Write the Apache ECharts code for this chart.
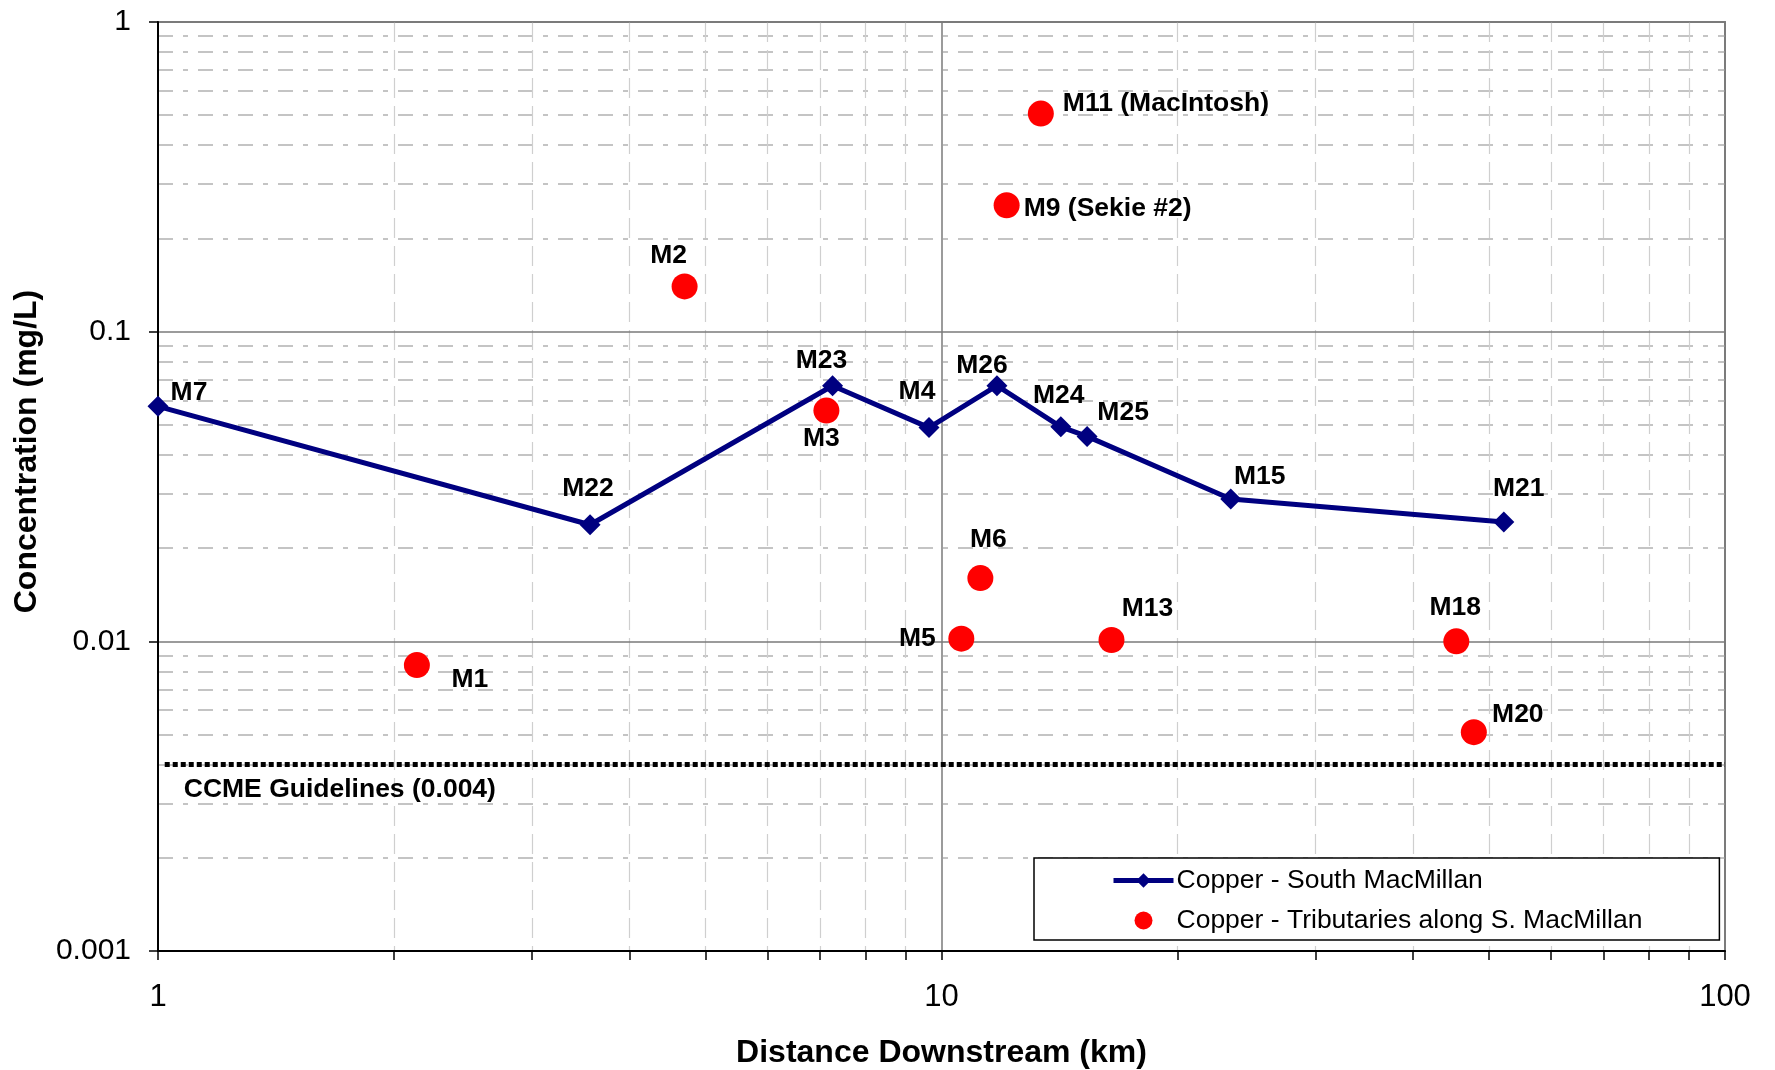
<!DOCTYPE html>
<html>
<head>
<meta charset="utf-8">
<title>Copper - South MacMillan</title>
<script src="https://cdn.jsdelivr.net/npm/echarts@6/dist/echarts.min.js"></script>
<style>
  html, body { margin: 0; padding: 0; background: #fff; }
  #chart { width: 1775px; height: 1070px; }
</style>
</head>
<body>
<div id="chart"></div>
<script>
// Main stem stations along the South MacMillan River
const mainSites = ['M7', 'M22', 'M23', 'M4', 'M26', 'M24', 'M25', 'M15', 'M21'];
const mainDistanceKm = [1.0, 3.56, 7.26, 9.64, 11.77, 14.2, 15.34, 23.4, 52.2];
const mainCopperMgL = [0.0574, 0.0238, 0.0669, 0.049, 0.0669, 0.0493, 0.0459, 0.0288, 0.0243];

// Tributary stations
const tribSites = ['M1', 'M2', 'M3', 'M5', 'M6', 'M9 (Sekie #2)', 'M11 (MacIntosh)', 'M13', 'M18', 'M20'];
const tribDistanceKm = [2.14, 4.70, 7.13, 10.60, 11.21, 12.11, 13.39, 16.48, 45.4, 47.8];
const tribCopperMgL = [0.00838, 0.140, 0.0556, 0.0102, 0.0160, 0.256, 0.506, 0.0101, 0.0100, 0.00509];

// CCME guideline
const ccmeGuideline = 0.004;
const ccmeLabel = 'CCME Guidelines (0.004)';

// Axis ticks
const xMajorTicks = [1, 10, 100];
const xMinorTicks = [2, 3, 4, 5, 6, 7, 8, 9, 20, 30, 40, 50, 60, 70, 80, 90];
const yMajorTicks = [0.001, 0.01, 0.1, 1];
const yMinorTicks = [0.002, 0.003, 0.004, 0.005, 0.006, 0.007, 0.008, 0.009,
                     0.02, 0.03, 0.04, 0.05, 0.06, 0.07, 0.08, 0.09,
                     0.2, 0.3, 0.4, 0.5, 0.6, 0.7, 0.8, 0.9];

const seriesMainName = 'Copper - South MacMillan';
const seriesTribName = 'Copper - Tributaries along S. MacMillan';

// Label placement per station: [align, dx, dy] relative to the marker centre
const labelPlacement = {
  'M7': ['center', 31, -14], 'M22': ['center', -2, -36], 'M23': ['center', -11, -25],
  'M4': ['center', -12, -36], 'M26': ['center', -15, -20], 'M24': ['center', -2, -31],
  'M25': ['center', 36, -24], 'M15': ['center', 29, -22], 'M21': ['center', 15, -33],
  'M1': ['center', 53, 15], 'M2': ['center', -16, -31], 'M3': ['center', -5, 28],
  'M5': ['center', -44, 0], 'M6': ['center', 8, -38], 'M9 (Sekie #2)': ['left', 17, 3],
  'M11 (MacIntosh)': ['left', 22, -10], 'M13': ['center', 36, -31], 'M18': ['center', -1, -34],
  'M20': ['center', 44, -17]
};

const FONT = '"Liberation Sans", Arial, Helvetica, sans-serif';

function pointsWithLabels(sites, xs, ys) {
  return sites.map(function (s, i) {
    const p = labelPlacement[s];
    return {
      value: [xs[i], ys[i]],
      name: s,
      label: { align: p[0], offset: [p[1], p[2]] }
    };
  });
}

const fmt = function (v) { return String(+Number(v).toPrecision(3)); };

const pointLabel = {
  show: true, position: 'inside', formatter: '{b}',
  fontFamily: FONT, fontSize: 26.5, fontWeight: 'bold', color: '#000000',
  textBorderWidth: 0, textShadowBlur: 0, opacity: 1
};

const chart = echarts.init(document.getElementById('chart'), null, { renderer: 'canvas' });

chart.setOption({
  animation: false,
  backgroundColor: '#ffffff',
  grid: {
    left: 158, right: 50, top: 22, bottom: 119,
    outerBoundsMode: 'none',
    containLabel: false,
    show: true, borderColor: '#808080', borderWidth: 2, backgroundColor: 'transparent'
  },
  legend: {
    orient: 'vertical',
    left: 1034, top: 858,
    padding: [9, 77, 6, 77],
    itemGap: 13,
    itemWidth: 60,
    itemHeight: 18,
    backgroundColor: '#ffffff',
    borderColor: '#000000',
    borderWidth: 1.5,
    borderRadius: 0,
    lineStyle: { width: 5 },
    textStyle: { fontFamily: FONT, fontSize: 26.5, color: '#000', padding: [0, 0, 0, -2] },
    data: [seriesMainName, seriesTribName]
  },
  xAxis: [
    {
      // minor grid
      type: 'log', logBase: 10, min: 1, max: 100, position: 'bottom', z: 0,
      axisLine: { show: false },
      axisLabel: { show: false },
      axisTick: { show: true, length: 9, customValues: xMinorTicks, lineStyle: { color: '#000', width: 1.5 } },
      splitLine: { show: true, lineStyle: { color: '#cfcfcf', width: 1.2, type: [20, 8] } }
    },
    {
      // major grid, labels and title
      type: 'log', logBase: 10, min: 1, max: 100, position: 'bottom', z: 1,
      name: 'Distance Downstream (km)',
      nameLocation: 'middle',
      nameGap: 86,
      nameTextStyle: { fontFamily: FONT, fontSize: 32, fontWeight: 'bold', color: '#000' },
      axisLine: { show: true, lineStyle: { color: '#000', width: 2 } },
      axisTick: { show: true, length: 9, customValues: xMajorTicks, lineStyle: { color: '#000', width: 1.5 } },
      axisLabel: { show: true, customValues: xMajorTicks, margin: 31, formatter: fmt,
                   fontFamily: FONT, fontSize: 31, color: '#000' },
      splitLine: { show: true, lineStyle: { color: '#7a7a7a', width: 1.5, type: 'solid' } }
    }
  ],
  yAxis: [
    {
      type: 'log', logBase: 10, min: 0.001, max: 1, position: 'left', z: 0,
      axisLine: { show: false },
      axisLabel: { show: false },
      axisTick: { show: false, customValues: yMinorTicks },
      splitLine: { show: true, lineStyle: { color: '#c4c4c4', width: 2, type: [15, 10, 5, 10] } }
    },
    {
      type: 'log', logBase: 10, min: 0.001, max: 1, position: 'left', z: 1,
      name: 'Concentration (mg/L)',
      nameLocation: 'middle',
      nameGap: 115,
      nameTextStyle: { fontFamily: FONT, fontSize: 32, fontWeight: 'bold', color: '#000',
                       padding: [0, 0, 0, 70] },
      axisLine: { show: true, lineStyle: { color: '#000', width: 2 } },
      axisTick: { show: true, length: 9, customValues: yMajorTicks, lineStyle: { color: '#000', width: 1.5 } },
      axisLabel: { show: true, customValues: yMajorTicks, margin: 27, formatter: fmt,
                   fontFamily: FONT, fontSize: 30, color: '#000' },
      splitLine: { show: true, lineStyle: { color: '#7a7a7a', width: 1.5, type: 'solid' } }
    }
  ],
  series: [
    {
      name: seriesMainName,
      type: 'line',
      xAxisIndex: 1, yAxisIndex: 1,
      data: pointsWithLabels(mainSites, mainDistanceKm, mainCopperMgL),
      symbol: 'diamond',
      symbolSize: 21,
      lineStyle: { color: '#000080', width: 5 },
      itemStyle: { color: '#000080' },
      label: pointLabel,
      z: 3
    },
    {
      name: seriesTribName,
      type: 'scatter',
      xAxisIndex: 1, yAxisIndex: 1,
      data: pointsWithLabels(tribSites, tribDistanceKm, tribCopperMgL),
      symbol: 'circle',
      symbolSize: 26,
      itemStyle: { color: '#ff0000', opacity: 1 },
      label: pointLabel,
      markLine: {
        silent: true,
        symbol: 'none',
        animation: false,
        lineStyle: { color: '#000', width: 5, type: [5, 3], cap: 'butt' },
        label: {
          show: true, position: 'insideStartBottom', formatter: ccmeLabel,
          distance: [19, 12],
          fontFamily: FONT, fontSize: 26.5, fontWeight: 'bold', color: '#000'
        },
        data: [[{ coord: [1.02, ccmeGuideline] }, { coord: [100, ccmeGuideline] }]]
      },
      z: 4
    }
  ]
});
</script>
</body>
</html>
